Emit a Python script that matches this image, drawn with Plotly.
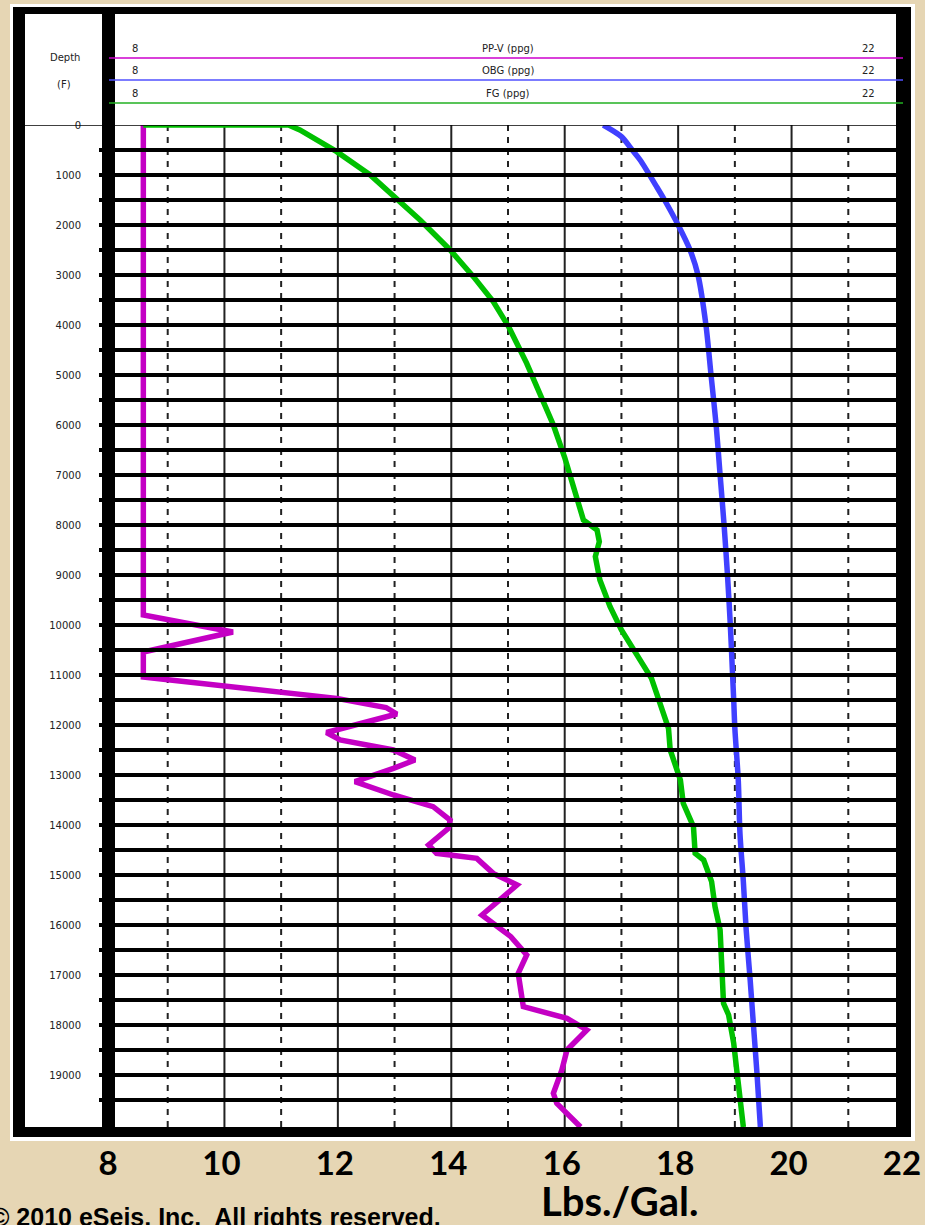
import plotly.graph_objects as go

# ---------------------------------------------------------------
# Pressure-gradient log: pore pressure (PP-V), overburden (OBG)
# and fracture gradient (FG), in ppg against depth in feet.
# ---------------------------------------------------------------

pp_depth = [0, 9800, 10140, 10540, 11040, 11467, 11650, 11780, 12150, 12300,
            12500, 12700, 12867, 13133, 13400, 13633, 13900, 14067, 14400,
            14567, 14667, 14967, 15200, 15800, 16233, 16600, 16967, 17633,
            17867, 18100, 18500, 18900, 19367, 19567, 20040]
pp_ppg = [8.57, 8.57, 10.15, 8.57, 8.57, 11.98, 12.85, 13.04, 11.80, 12.04,
          12.98, 13.36, 12.98, 12.30, 12.98, 13.68, 13.98, 13.95, 13.60,
          13.74, 14.45, 14.74, 15.16, 14.54, 15.05, 15.33, 15.18, 15.27,
          16.04, 16.39, 16.04, 15.95, 15.80, 15.86, 16.28]

obg_depth = [0, 233, 500, 700, 1233, 1500, 2000, 2500, 3000, 4000, 5000, 6000,
             7000, 8000, 9000, 10000, 11000, 11500, 12067, 13100, 14167,
             15133, 16100, 17100, 18033, 18967, 20040]
obg_ppg = [16.68, 17.0, 17.19, 17.33, 17.62, 17.76, 18.0, 18.21, 18.35, 18.49,
           18.58, 18.67, 18.74, 18.81, 18.87, 18.92, 18.96, 18.98, 19.0,
           19.06, 19.09, 19.15, 19.2, 19.27, 19.33, 19.39, 19.45]

fg_depth = [0, 0, 100, 533, 1000, 1433, 1900, 2500, 3033, 3533, 4033, 4767,
            5560, 6000, 6650, 7900, 8100, 8333, 8633, 9100, 9633, 10100,
            11067, 11600, 12067, 12500, 13100, 13567, 14033, 14567, 14700,
            15133, 15633, 16100, 16833, 17567, 17800, 18367, 18967, 19633,
            20040]
fg_ppg = [8.57, 11.13, 11.33, 11.98, 12.57, 12.98, 13.45, 13.98, 14.39, 14.74,
          15.01, 15.33, 15.63, 15.80, 16.0, 16.33, 16.57, 16.61, 16.54, 16.62,
          16.80, 17.0, 17.53, 17.68, 17.83, 17.86, 18.04, 18.09, 18.27, 18.30,
          18.45, 18.59, 18.65, 18.74, 18.77, 18.80, 18.89, 18.98, 19.04,
          19.12, 19.15]

ppg_ticks = [8, 10, 12, 14, 16, 18, 20, 22]
depth_ticks = list(range(0, 20000, 1000))
depth_labels = [str(d) for d in depth_ticks]

header_rows = ["PP-V (ppg)", "OBG (ppg)", "FG (ppg)"]
header_min, header_max = "8", "22"

# ---------------------------------------------------------------
W, H = 925, 1225


def px(x):
    return x / W


def py(y):
    return 1 - y / H


MAGENTA = "#c400c4"
BLUE = "#4040ff"
GREEN = "#00c000"

fig = go.Figure()
for xs, ys, col, shp in [(pp_ppg, pp_depth, MAGENTA, "linear"),
                         (fg_ppg, fg_depth, GREEN, "linear"),
                         (obg_ppg, obg_depth, BLUE, "spline")]:
    fig.add_trace(go.Scatter(x=xs, y=ys, mode="lines",
                             line=dict(color=col, width=5.5, shape=shp,
                                       smoothing=0.8),
                             hoverinfo="skip", showlegend=False))

shapes = []
# white panel behind the whole log
shapes.append(dict(type="rect", xref="paper", yref="paper",
                   x0=px(10), x1=px(915), y0=py(1141), y1=py(4),
                   fillcolor="white", line=dict(width=0), layer="below"))

# vertical grid: solid at even ppg, dashed at odd ppg
for v in range(9, 22):
    shapes.append(dict(type="line", xref="x", yref="y",
                       x0=v, x1=v, y0=0, y1=20040, layer="below",
                       line=dict(color="#222222", width=2,
                                 dash="solid" if v % 2 == 0 else "6px,6px")))

# heavy depth lines every 500 ft
for d in range(500, 20000, 500):
    shapes.append(dict(type="line", xref="paper", yref="y",
                       x0=px(99), x1=px(897), y0=d, y1=d, layer="above",
                       line=dict(color="black", width=4)))
# thin line under the header
shapes.append(dict(type="line", xref="paper", yref="y",
                   x0=px(25), x1=px(897), y0=0, y1=0, layer="above",
                   line=dict(color="black", width=1.5)))

# thick black frame
for x0, y0, x1, y1 in [(13, 7, 911, 14), (13, 7, 25, 1137),
                       (102, 7, 115, 1137), (896, 7, 911, 1137),
                       (13, 1127, 911, 1137)]:
    shapes.append(dict(type="rect", xref="paper", yref="paper",
                       x0=px(x0), x1=px(x1), y0=py(y1), y1=py(y0),
                       fillcolor="black", line=dict(width=0), layer="above"))

# header scale lines
header_y = [58, 80, 103]
header_cols = ["#cc00cc", "#5050ff", "#22b022"]
for yy, col in zip(header_y, header_cols):
    shapes.append(dict(type="line", xref="paper", yref="paper",
                       x0=px(109), x1=px(903), y0=py(yy), y1=py(yy),
                       layer="above", line=dict(color=col, width=1.5)))

small = dict(family="DejaVu Sans", size=10, color="#222222")
ann = []
for yy, name in zip(header_y, header_rows):
    ty = yy - 10
    ann.append(dict(x=px(135), y=py(ty), text=header_min, font=small))
    ann.append(dict(x=px(508), y=py(ty), text=name, font=small))
    ann.append(dict(x=px(868), y=py(ty), text=header_max, font=small))
ann.append(dict(x=px(65), y=py(57), text="Depth", font=small))
ann.append(dict(x=px(64), y=py(84), text="(F)", font=small))
ann.append(dict(x=px(619), y=py(1201), text="Lbs./Gal.",
                font=dict(family="Lato", size=40, color="black", weight="bold")))
ann.append(dict(x=px(443), y=py(1217), xanchor="right",
                text="\u00a9 2010 eSeis, Inc.  All rights reserved.",
                font=dict(family="Liberation Sans", size=25, color="black",
                          weight="bold")))
for a in ann:
    a.update(xref="paper", yref="paper", showarrow=False)
    a.setdefault("xanchor", "center")
    a.setdefault("yanchor", "middle")

fig.update_layout(
    width=W, height=H, autosize=False,
    margin=dict(l=0, r=0, t=0, b=0, pad=0, autoexpand=False),
    paper_bgcolor="#e6d6b4", plot_bgcolor="white",
    showlegend=False,
    xaxis=dict(domain=[px(111), px(905)], range=[8, 22], automargin=False,
               tickvals=ppg_ticks, ticks="", showgrid=False,
               zeroline=False, showline=False, ticklabelstandoff=14,
               ticklabelshift=-3,
               tickfont=dict(family="Lato", size=33, color="black",
                             weight="bold")),
    yaxis=dict(domain=[py(1127), py(125)], range=[20040, 0], automargin=False,
               tickvals=depth_ticks, ticktext=depth_labels, ticks="",
               showgrid=False, zeroline=False, showline=False,
               ticklabelstandoff=29, tickfont=small),
    shapes=shapes, annotations=ann,
)

# the page body gets no margin so the figure fills the window exactly
fig.write_html(
    "out.html",
    post_script="document.body.style.margin='0';"
                "document.body.style.overflow='hidden';",
)
